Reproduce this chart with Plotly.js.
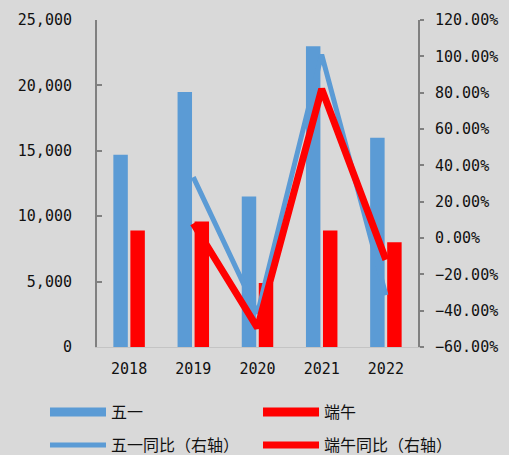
<!DOCTYPE html>
<html>
<head>
<meta charset="utf-8">
<script src="https://cdn.plot.ly/plotly-3.0.1.min.js"></script>
<style>html,body{margin:0;padding:0;background:#d9d9d9;}#chart{width:509px;height:455px;}</style>
</head>
<body>
<div id="chart"></div>
<script>
var years = ['2018', '2019', '2020', '2021', '2022'];
var wuyi = [14700, 19500, 11500, 23000, 16000];
var duanwu = [8900, 9600, 4900, 8900, 8000];
var wuyiYoY = [null, 33.5, -41.5, 101, -31.5];
var duanwuYoY = [null, 8, -49.5, 82, -12];
var names = ['五一', '端午', '五一同比（右轴）', '端午同比（右轴）'];

var BLUE = '#5b9bd5', RED = '#ff0000';
var tickFont = {family: 'DejaVu Sans Mono, monospace', size: 15, color: '#111'};
var legFont = {family: 'Noto Sans CJK SC, sans-serif', size: 16, color: '#111'};

var traces = [
  {type: 'bar', x: years, y: wuyi, name: names[0], marker: {color: BLUE}, showlegend: false, yaxis: 'y'},
  {type: 'bar', x: years, y: duanwu, name: names[1], marker: {color: RED}, showlegend: false, yaxis: 'y'},
  {type: 'scatter', mode: 'lines', x: years, y: wuyiYoY, name: names[2], line: {color: BLUE, width: 5}, yaxis: 'y2', legend: 'legend3'},
  {type: 'scatter', mode: 'lines', x: years, y: duanwuYoY, name: names[3], line: {color: RED, width: 7}, yaxis: 'y2', legend: 'legend4'},
  // legend proxies for the bar series (wide rectangles)
  {type: 'scatter', mode: 'lines', x: [null], y: [null], name: names[0], line: {color: BLUE, width: 9}, yaxis: 'y2', legend: 'legend', hoverinfo: 'skip'},
  {type: 'scatter', mode: 'lines', x: [null], y: [null], name: names[1], line: {color: RED, width: 9}, yaxis: 'y2', legend: 'legend2', hoverinfo: 'skip'}
];

function leg(x, y) {
  return {
    orientation: 'h', x: x, xanchor: 'left', y: y, yanchor: 'middle',
    font: legFont, itemwidth: 56, bgcolor: 'rgba(0,0,0,0)', borderwidth: 0
  };
}
var colX = [-0.162, 0.5016];
var rowY = [-0.1988, -0.2997];

var layout = {
  width: 509, height: 455,
  margin: {l: 97, r: 91, t: 20, b: 108, autoexpand: false},
  paper_bgcolor: '#d9d9d9', plot_bgcolor: '#d9d9d9',
  barmode: 'group', bargap: 0.47, bargroupgap: 0.15,
  showlegend: true,
  xaxis: {
    type: 'category', showgrid: false, zeroline: false,
    showline: true, linecolor: '#c4c4c4', linewidth: 1,
    ticks: '', tickfont: tickFont, ticklabelstandoff: 8
  },
  yaxis: {
    range: [0, 25000], dtick: 5000, tickformat: ',d',
    showgrid: false, zeroline: false,
    showline: true, linecolor: '#808080', linewidth: 2,
    ticks: 'inside', ticklen: 5, tickcolor: '#808080', tickwidth: 2,
    tickfont: tickFont, ticklabelstandoff: 20
  },
  yaxis2: {
    overlaying: 'y', side: 'right',
    range: [-60, 120], dtick: 20, tickformat: '.2f', ticksuffix: '%',
    showgrid: false, zeroline: false,
    showline: true, linecolor: '#808080', linewidth: 2,
    ticks: 'outside', ticklen: 4, tickcolor: '#808080', tickwidth: 2,
    tickfont: tickFont, ticklabelstandoff: 8
  },
  legend: leg(colX[0], rowY[0]),
  legend2: leg(colX[1], rowY[0]),
  legend3: leg(colX[0], rowY[1]),
  legend4: leg(colX[1], rowY[1])
};

Plotly.newPlot('chart', traces, layout, {displayModeBar: false, staticPlot: true});
</script>
</body>
</html>
